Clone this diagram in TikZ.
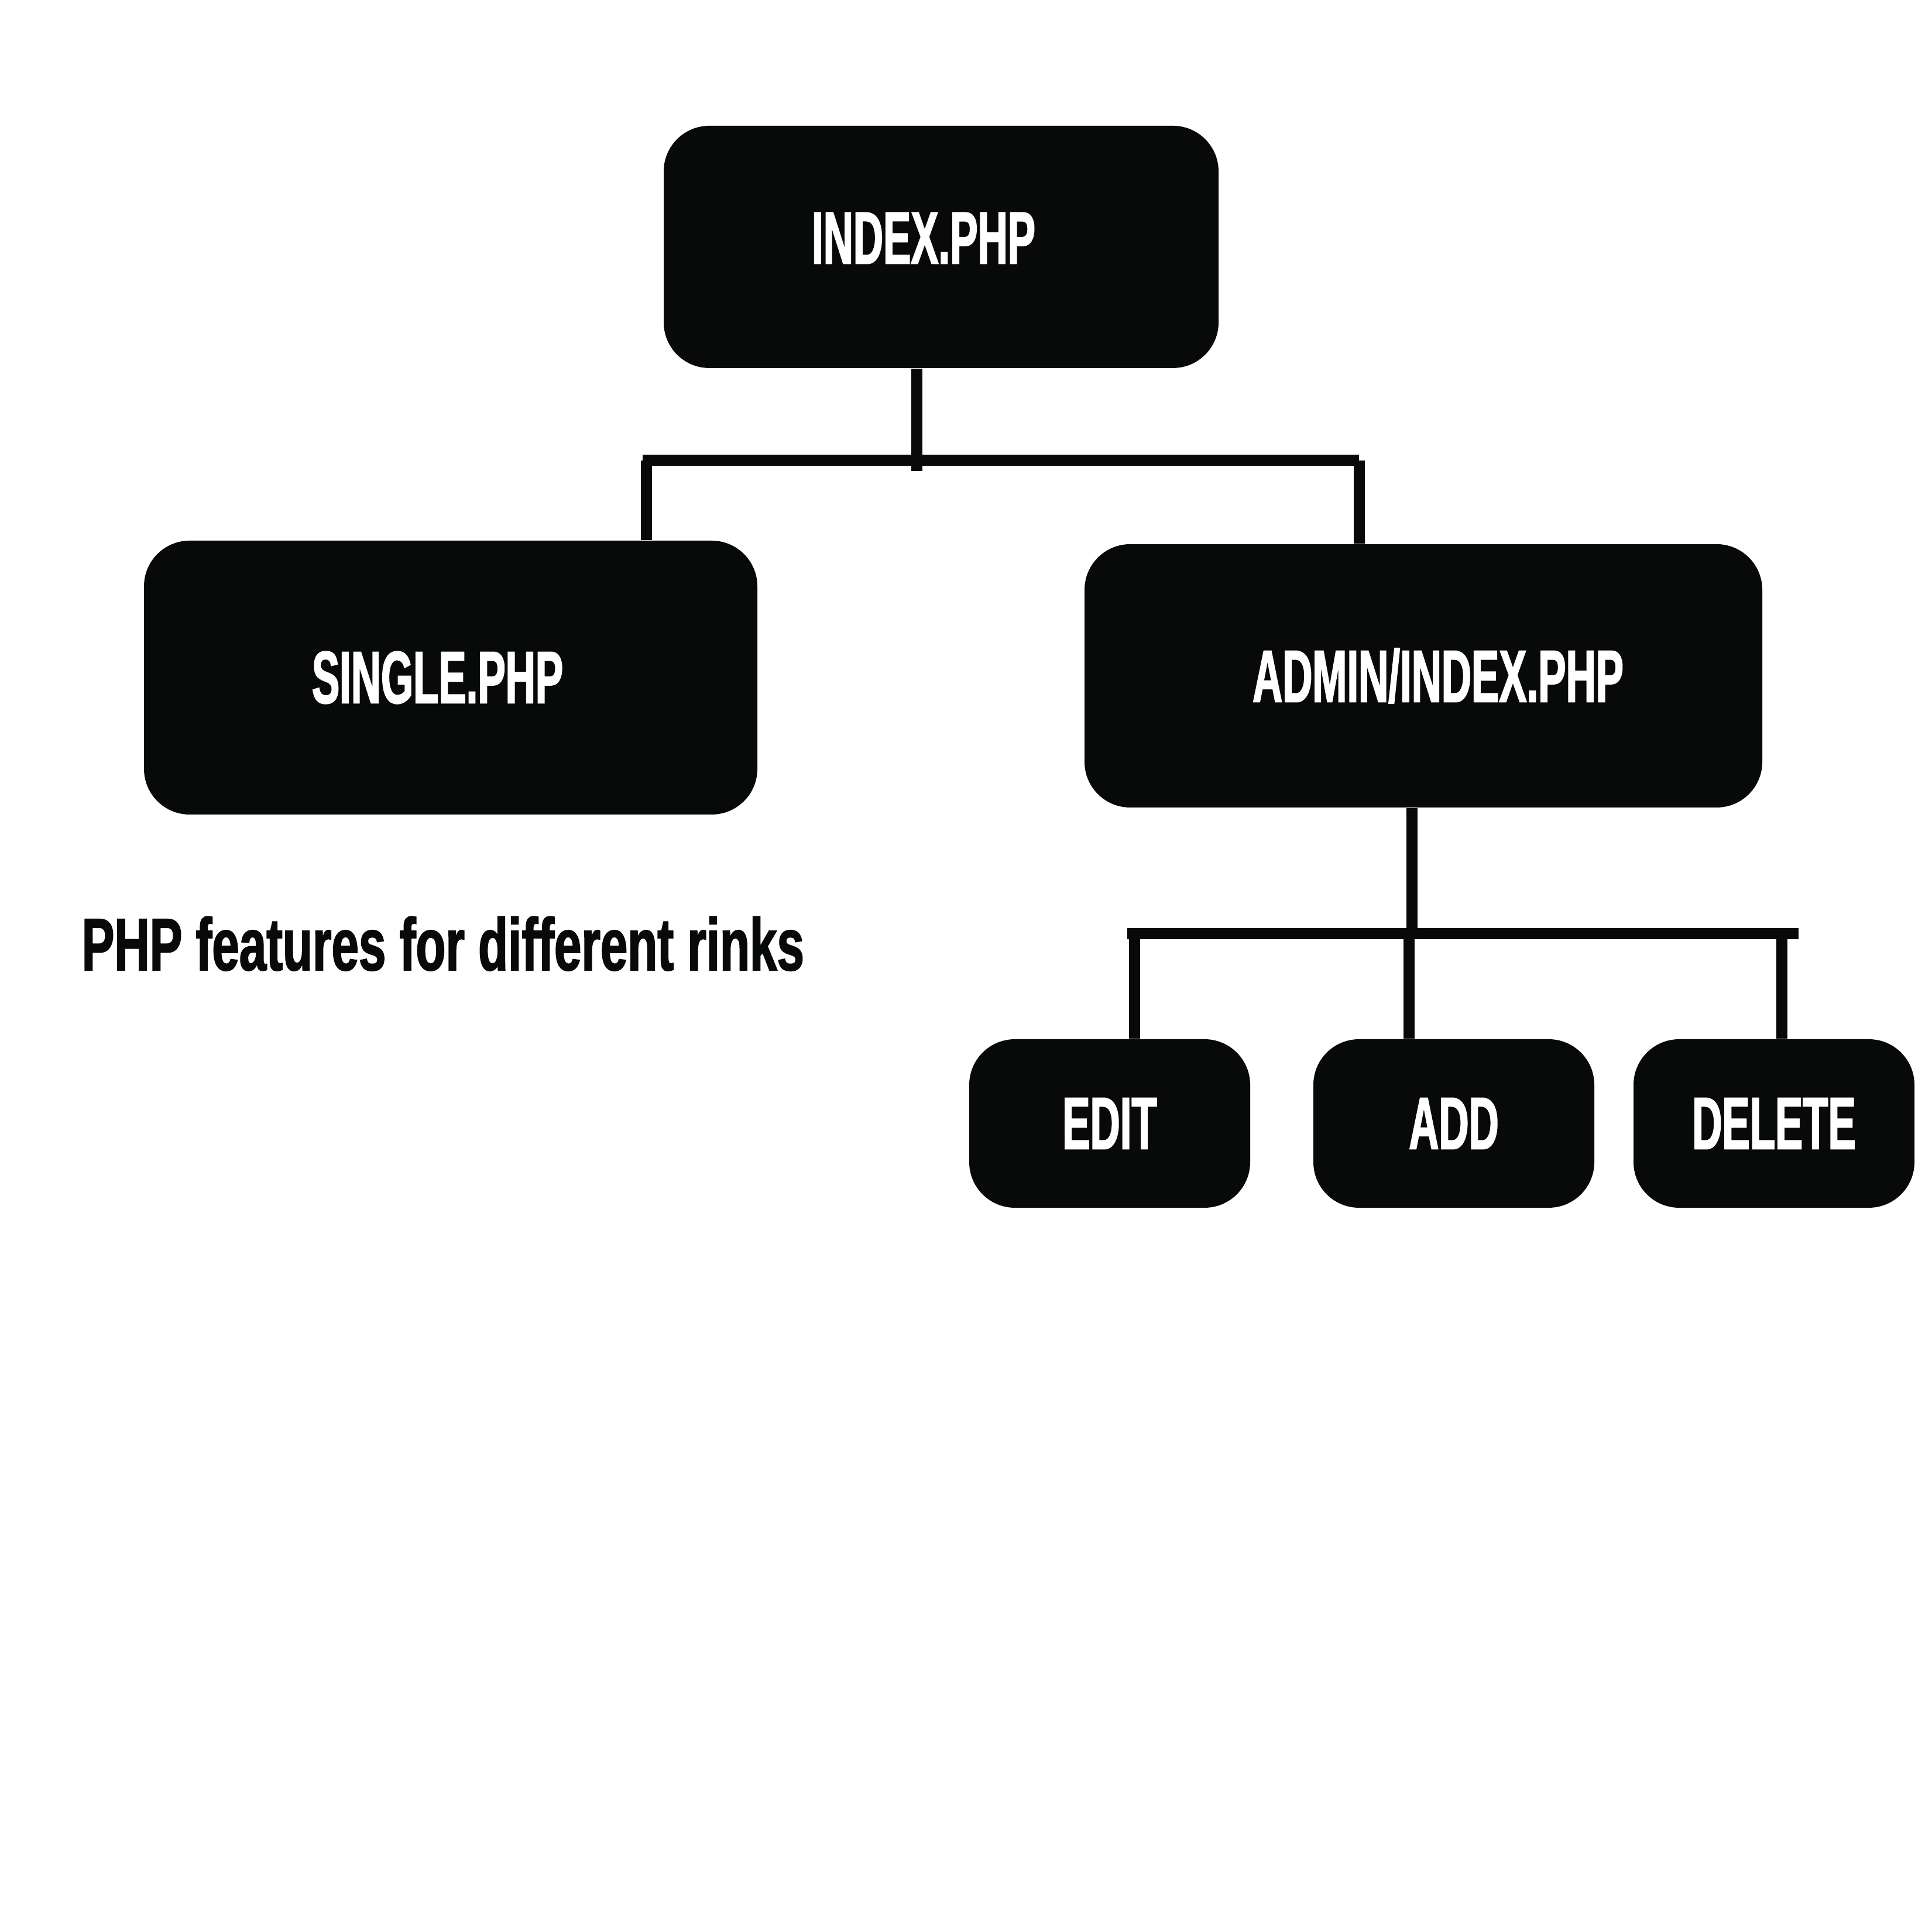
\documentclass[tikz,border=0pt]{standalone}
\usepackage{fontspec}
\usetikzlibrary{calc}
\newfontfamily\boxfont[FakeStretch=0.56,FakeBold=1.5]{Liberation Sans}
\newfontfamily\notefont[FakeStretch=0.66,FakeBold=1.5]{Liberation Sans}
\newcommand{\LINEPT}{5.4pt}
\newcommand{\BOXRAD}{0.78cm}
\newcommand{\TXTPT}{36}
\definecolor{myblack}{rgb}{0.031,0.039,0.035}
\tikzset{
	phpbox/.style={fill=myblack, rounded corners=\BOXRAD, text=white, inner sep=0pt,
		font=\boxfont\bfseries\fontsize{\TXTPT}{40}\selectfont},
	wire/.style={draw=myblack, line width=\LINEPT},
}
\begin{document}
\begin{tikzpicture}
	
		\path[use as bounding box] (0,0) rectangle (33,33);
		
		%% boxes
		\node[phpbox, minimum width=9.48cm, minimum height=4.14cm] (index) at (16.08,28.78) {\raisebox{0.3cm}{INDEX.PHP}\kern0.6cm};
		\node[phpbox, minimum width=10.48cm, minimum height=4.68cm] (single) at (7.70,21.42) {SINGLE.PHP\kern0.45cm};
		\node[phpbox, minimum width=11.58cm, minimum height=4.50cm] (admin) at (24.32,21.45) {\kern0.5cm ADMIN/INDEX.PHP};
		\node[phpbox, minimum width=4.80cm, minimum height=2.88cm] (edit) at (18.96,13.80) {EDIT};
		\node[phpbox, minimum width=4.80cm, minimum height=2.88cm] (add) at (24.84,13.80) {ADD};
		\node[phpbox, minimum width=4.80cm, minimum height=2.88cm] (delete) at (30.31,13.80) {DELETE};
		
		%% first level
		\coordinate (drop1) at (15.66,24.95);
		\coordinate (bus1l) at (10.98,25.13);
		\coordinate (bus1r) at (23.22,25.13);
		\coordinate (legS) at (11.04,25.13);
		\coordinate (legA) at (23.22,25.13);
		
		\draw[wire] (drop1 |- index.south) -- (drop1);
		\draw[wire] (bus1l) -- (bus1r);
		\draw[wire] (legS) -- (legS |- single.north);
		\draw[wire] (legA) -- (legA |- admin.north);
		
		%% second level
		\coordinate (drop2) at (24.12,17.04);
		\coordinate (bus2l) at (19.26,17.04);
		\coordinate (bus2r) at (30.73,17.04);
		\coordinate (legE) at (19.38,17.04);
		\coordinate (legD) at (24.07,17.04);
		\coordinate (legX) at (30.44,17.04);
		
		\draw[wire] (drop2 |- admin.south) -- (drop2);
		\draw[wire] (bus2l) -- (bus2r);
		\draw[wire] (legE) -- (legE |- edit.north);
		\draw[wire] (legD) -- (legD |- add.north);
		\draw[wire] (legX) -- (legX |- delete.north);
		
		%% caption
		\node[anchor=base west, inner sep=0pt, text=myblack, font=\notefont\bfseries\fontsize{\TXTPT}{40}\selectfont] (note) at (1.39,16.42) {PHP features for different rinks};

	\end{tikzpicture}
\end{document}
